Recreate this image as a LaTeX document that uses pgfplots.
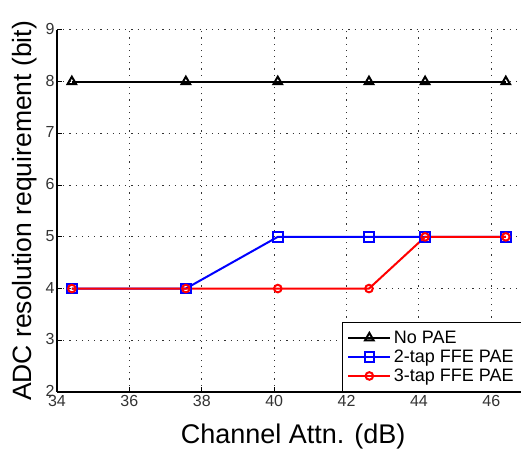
\documentclass[border=0pt]{standalone}
\usepackage{fontspec}
\setmainfont{Liberation Sans}
\usepackage{pgfplots}
\pgfplotsset{compat=1.18}
\usetikzlibrary{calc}

\begin{document}
\begin{tikzpicture}
\begin{axis}[
  name=ax,
  scale only axis,
  width=464pt, height=362pt,
  xmin=34, xmax=46.82,
  ymin=2, ymax=9,
  xtick={34,36,...,46},
  ytick={2,3,...,9},
  axis x line*=bottom,
  axis y line*=left,
  axis line style={-, line width=1.5pt, black},
  tick align=inside,
  major tick length=5pt,
  tick style={black, line width=1pt},
  grid=major,
  major grid style={dash pattern=on 1.2pt off 5pt, black!80, line width=1pt},
  /pgf/number format/assume math mode=true,
  ticklabel style={font=\fontsize{16}{18}\selectfont, text=black!80},
  xticklabel style={yshift=0pt},
  yticklabel style={xshift=1pt, yshift=1pt},
  xlabel={Channel Attn. (dB)},
  ylabel={ADC resolution requirement (bit)},
  every axis x label/.style={at={(axis description cs:0.509,-0.124)}, anchor=center, font=\fontsize{27}{30}\selectfont},
  every axis y label/.style={at={(axis description cs:-0.069,0.5)}, anchor=center, rotate=90, font=\fontsize{26.5}{30}\selectfont},
  legend style={at={(axis cs:41.87,2)}, anchor=south west,
    draw=black, line width=1pt, fill=white,
    font=\fontsize{18}{20}\selectfont,
    row sep=0pt, inner xsep=5pt, inner ysep=6pt,
    nodes={inner sep=2.5pt}},
  legend cell align=left,
  every axis legend/.append style={legend image code/.code={
    \draw[mark repeat=2, mark phase=2, #1]
      plot coordinates {(0pt,0pt) (21pt,0pt) (42pt,0pt)};}},
]
% No PAE
\addplot[black, line width=2pt, mark=triangle, mark size=5pt,
  mark options={line width=2pt, solid}]
  coordinates {(34.41,8) (37.56,8) (40.1,8) (42.62,8) (44.17,8) (46.4,8)};
\addlegendentry{No PAE}
% 2-tap FFE PAE
\addplot[blue, line width=2pt, mark=square, mark size=4.8pt,
  mark options={line width=2pt, solid}]
  coordinates {(34.41,4) (37.56,4) (40.1,5) (42.62,5) (44.17,5) (46.4,5)};
\addlegendentry{2-tap FFE PAE}
% 3-tap FFE PAE
\addplot[red, line width=2pt, mark=o, mark size=3.8pt,
  mark options={line width=2pt, solid}]
  coordinates {(34.41,4) (37.56,4) (40.1,4) (42.62,4) (44.17,5) (46.4,5)};
\addlegendentry{3-tap FFE PAE}
\end{axis}
\pgfresetboundingbox
\path[use as bounding box] ($(ax.south west)+(-57pt,-58pt)$) rectangle ($(ax.north east)+(0pt,30pt)$);
\end{tikzpicture}
\end{document}
